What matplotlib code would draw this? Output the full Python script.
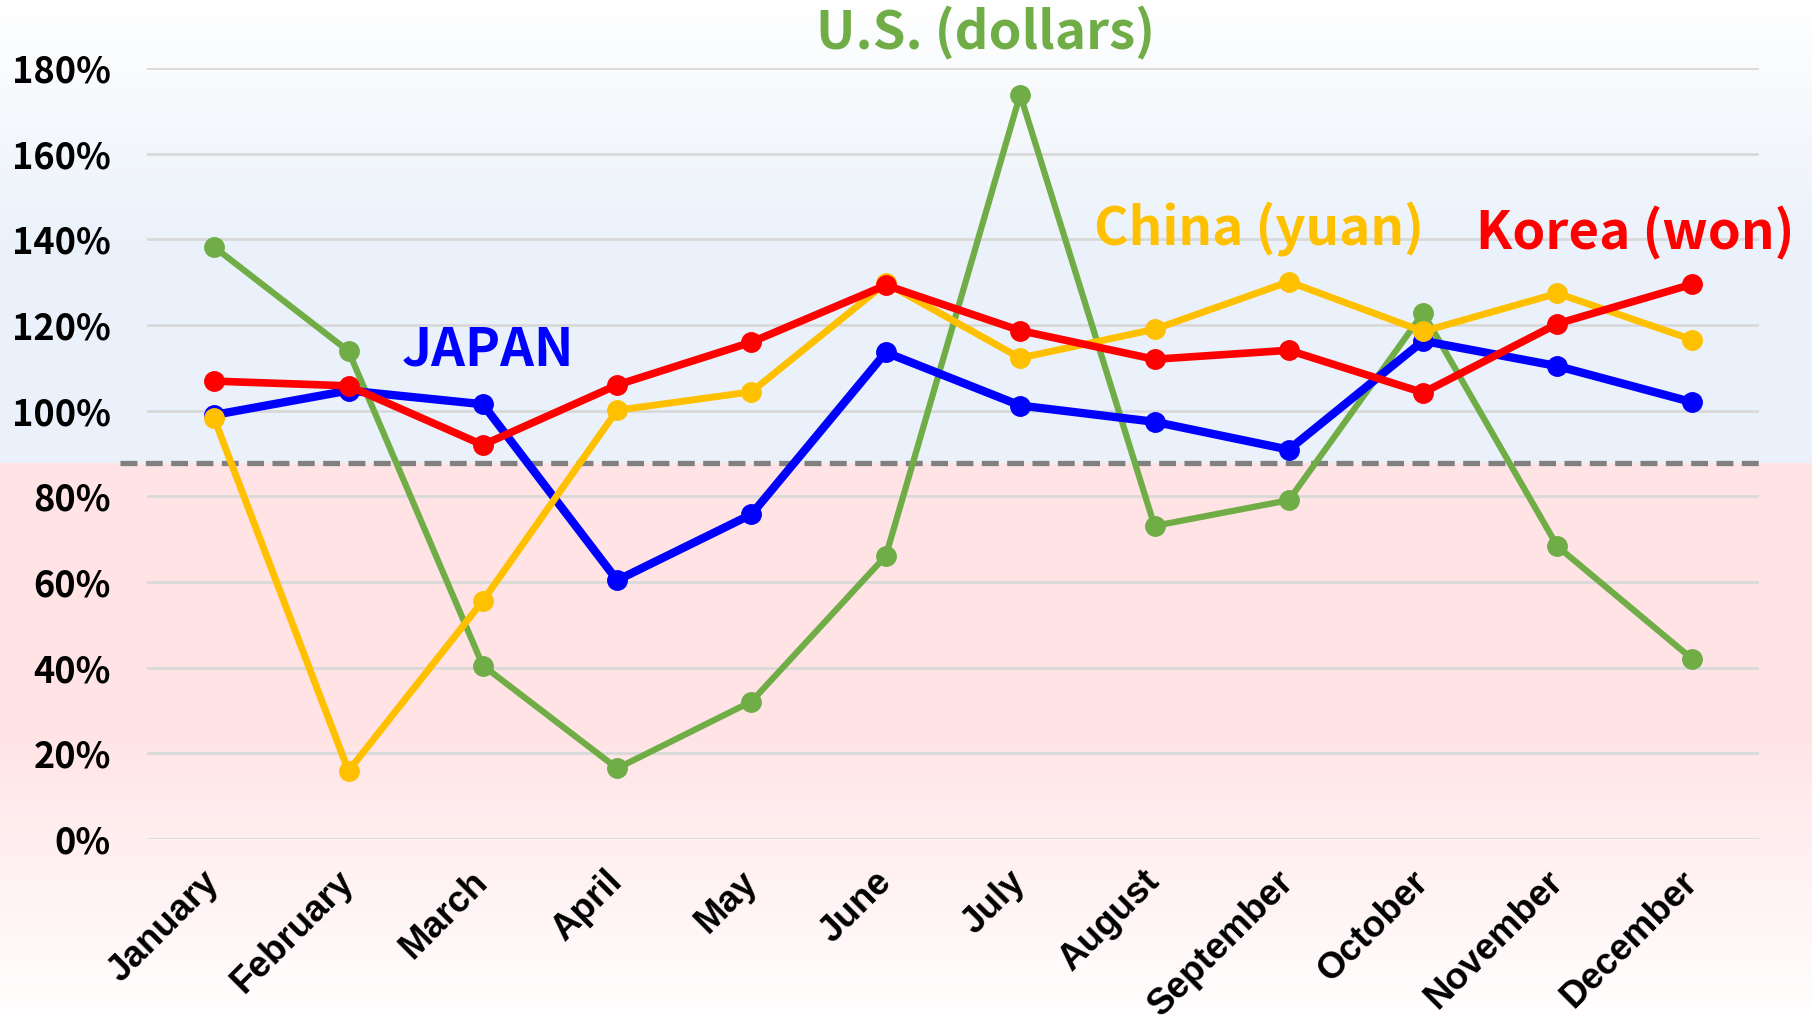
import numpy as np
import matplotlib
matplotlib.use('Agg')
import matplotlib.pyplot as plt

plt.rcParams['font.family'] = ['Noto Sans CJK JP', 'DejaVu Sans']

# dados (em %)
meses = ['January', 'February', 'March', 'April', 'May', 'June', 'July',
         'August', 'September', 'October', 'November', 'December']
japan = [99.0, 104.7, 101.5, 60.4, 75.8, 113.6, 101.2, 97.4, 90.9, 116.3, 110.4, 102.0]
korea = [106.9, 105.8, 92.0, 106.0, 116.0, 129.3, 118.7, 112.0, 114.1, 104.2, 120.3, 129.5]
china = [98.2, 15.9, 55.6, 100.1, 104.4, 129.8, 112.3, 119.0, 130.1, 118.5, 127.4, 116.6]
us = [138.2, 113.9, 40.5, 16.5, 32.1, 66.1, 173.8, 73.1, 79.1, 122.8, 68.3, 42.1]
limite = 87.7
yticks = [0, 20, 40, 60, 80, 100, 120, 140, 160, 180]

W, H = 1812, 1028
fig = plt.figure(figsize=(W / 100, H / 100), dpi=100)

# fundo: azul em cima do limite, rosa embaixo
topo_px, base_px = 68, 839
linha_px = int(round(topo_px + (180 - limite) / 180 * (base_px - topo_px)))
branco = np.array([1.0, 1.0, 1.0])
azul = np.array([0xEA, 0xF1, 0xFA]) / 255
rosa = np.array([0xFF, 0xE3, 0xE5]) / 255
fundo = np.ones((H, W, 3))
for r in range(H):
    if r < linha_px:
        t = min(r / 260, 1.0)
        fundo[r] = branco * (1 - t) + azul * t
    else:
        t = min(max((r - 730) / (H - 730), 0.0), 1.0) ** 0.9
        fundo[r] = rosa * (1 - t) + branco * t
bg = fig.add_axes([0, 0, 1, 1], zorder=0)
bg.imshow(fundo, aspect='auto', extent=(0, W, H, 0))
bg.axis('off')

ax = fig.add_axes([147 / W, (H - base_px) / H, (1759 - 147) / W, (base_px - topo_px) / H], zorder=1)
ax.set_facecolor('none')
x = np.arange(len(meses))

ax.plot(x, us, color='#70AD47', lw=4.5, marker='o', ms=14, zorder=3)
ax.plot(x, japan, color='#0000FF', lw=6, marker='o', ms=14, zorder=4)
ax.plot(x, china, color='#FFC000', lw=5, marker='o', ms=14, zorder=5)
ax.plot(x, korea, color='#FF0000', lw=5.5, marker='o', ms=14, zorder=6)

ax.axhline(limite, xmin=-0.017, xmax=1, color='#808080', lw=3.8,
           ls=(0, (3.2, 1.6)), clip_on=False, zorder=2)

ax.set_xlim(-0.5, 11.5)
ax.set_ylim(0, 180)
ax.set_yticks(yticks)
ax.set_yticklabels([f'{v}%' for v in yticks], fontsize=26, fontweight='bold')
ax.set_xticks(x)
ax.set_xticklabels(meses, rotation=45, ha='right', va='center', rotation_mode='anchor',
                   fontsize=26.5, fontweight='bold', family='Liberation Sans')
ax.tick_params(axis='y', length=0, pad=26)
ax.tick_params(axis='x', length=0, pad=27)
ax.grid(axis='y', color='#D9D9D9', lw=2)
ax.set_axisbelow(True)
for s in ax.spines.values():
    s.set_visible(False)

# rotulos das series
ax.text(2.04, 114.1, 'JAPAN', color='#0000FF', fontsize=38, fontweight='bold',
        ha='center', va='center', clip_on=False)
ax.text(5.74, 188.0, 'U.S. (dollars)', color='#70AD47', fontsize=38, fontweight='bold',
        ha='center', va='center', clip_on=False)
ax.text(7.78, 142.4, 'China (yuan)', color='#FFC000', fontsize=38, fontweight='bold',
        ha='center', va='center', clip_on=False)
ax.text(10.58, 141.4, 'Korea (won)', color='#FF0000', fontsize=38, fontweight='bold',
        ha='center', va='center', clip_on=False)

fig.savefig('out.png', dpi=100)
